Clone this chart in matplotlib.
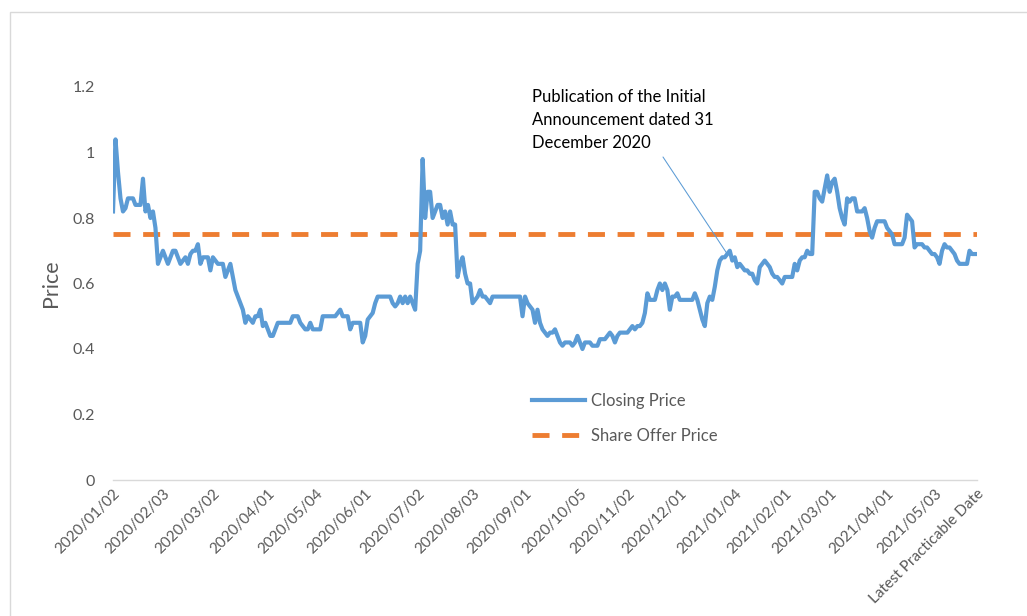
import numpy as np
import matplotlib
matplotlib.use("Agg")
import matplotlib.pyplot as plt
from matplotlib.patches import Rectangle

plt.rcParams['font.family'] = ['Lato', 'DejaVu Sans']

# closing prices, one value per trading day, grouped by month
jan20 = [0.82, 1.04, 0.94, 0.86, 0.82, 0.83, 0.86, 0.86, 0.86, 0.84,
         0.84, 0.84, 0.92, 0.82, 0.84, 0.80, 0.82, 0.77, 0.66, 0.68]
feb20 = [0.70, 0.68, 0.66, 0.68, 0.70, 0.70, 0.68, 0.66, 0.67, 0.68,
         0.66, 0.69, 0.70, 0.70, 0.72, 0.66, 0.68, 0.68, 0.68, 0.64]
mar20 = [0.68, 0.67, 0.66, 0.66, 0.66, 0.62, 0.64, 0.66, 0.62, 0.58,
         0.56, 0.54, 0.52, 0.48, 0.50, 0.49, 0.48, 0.50, 0.50, 0.52,
         0.47, 0.48]
apr20 = [0.46, 0.44, 0.44, 0.46, 0.48, 0.48, 0.48, 0.48, 0.48, 0.48,
         0.50, 0.50, 0.50, 0.48, 0.47, 0.46, 0.46, 0.48, 0.46]
may20 = [0.46, 0.46, 0.46, 0.50, 0.50, 0.50, 0.50, 0.50, 0.50, 0.51,
         0.52, 0.50, 0.50, 0.50, 0.46, 0.48, 0.48, 0.48, 0.48, 0.42]
jun20 = [0.44, 0.49, 0.50, 0.51, 0.54, 0.56, 0.56, 0.56, 0.56, 0.56,
         0.56, 0.54, 0.53, 0.54, 0.56, 0.54, 0.56, 0.54, 0.56, 0.54,
         0.52]
jul20 = [0.66, 0.70, 0.98, 0.80, 0.88, 0.88, 0.80, 0.82, 0.84, 0.84,
         0.80, 0.82, 0.78, 0.82, 0.78, 0.78, 0.62, 0.66, 0.68, 0.63,
         0.60, 0.60]
aug20 = [0.54, 0.55, 0.56, 0.58, 0.56, 0.56, 0.55, 0.54, 0.56, 0.56,
         0.56, 0.56, 0.56, 0.56, 0.56, 0.56, 0.56, 0.56, 0.56, 0.56,
         0.50]
sep20 = [0.56, 0.54, 0.53, 0.52, 0.48, 0.52, 0.48, 0.46, 0.45, 0.44,
         0.45, 0.45, 0.46, 0.44, 0.42, 0.41, 0.42, 0.42, 0.42, 0.41,
         0.42, 0.44]
oct20 = [0.42, 0.40, 0.42, 0.42, 0.42, 0.41, 0.41, 0.41, 0.43, 0.43,
         0.43, 0.44, 0.45, 0.44, 0.42, 0.44, 0.45, 0.45, 0.45]
nov20 = [0.45, 0.46, 0.47, 0.46, 0.47, 0.47, 0.48, 0.51, 0.57, 0.55,
         0.55, 0.55, 0.58, 0.60, 0.58, 0.60, 0.58, 0.52, 0.56, 0.56,
         0.57]
dec20 = [0.55, 0.55, 0.55, 0.55, 0.55, 0.55, 0.57, 0.55, 0.52, 0.49,
         0.47, 0.54, 0.56, 0.55, 0.59, 0.64, 0.67, 0.68, 0.68, 0.69,
         0.70, 0.67]
jan21 = [0.68, 0.65, 0.66, 0.65, 0.64, 0.64, 0.63, 0.63, 0.61, 0.60,
         0.65, 0.66, 0.67, 0.66, 0.65, 0.63, 0.62, 0.62, 0.61, 0.60]
feb21 = [0.62, 0.62, 0.62, 0.62, 0.66, 0.64, 0.67, 0.68, 0.68, 0.70,
         0.69, 0.69, 0.88, 0.88, 0.86, 0.85, 0.89, 0.93]
mar21 = [0.88, 0.91, 0.92, 0.88, 0.83, 0.80, 0.78, 0.86, 0.85, 0.86,
         0.86, 0.82, 0.82, 0.82, 0.83, 0.80, 0.76, 0.74, 0.77, 0.79,
         0.79, 0.79, 0.79]
apr21 = [0.77, 0.76, 0.75, 0.72, 0.72, 0.72, 0.72, 0.74, 0.81, 0.80,
         0.79, 0.71, 0.72, 0.72, 0.72, 0.71, 0.71, 0.70, 0.69]
may21 = [0.69, 0.68, 0.66, 0.70, 0.72, 0.71, 0.71, 0.70, 0.69, 0.67,
         0.66, 0.66, 0.66, 0.66, 0.70, 0.69, 0.69, 0.69]

months = [jan20, feb20, mar20, apr20, may20, jun20, jul20, aug20, sep20,
          oct20, nov20, dec20, jan21, feb21, mar21, apr21, may21]
closing = np.concatenate(months)
offer_price = 0.75

tick_labels = ['2020/01/02', '2020/02/03', '2020/03/02', '2020/04/01',
               '2020/05/04', '2020/06/01', '2020/07/02', '2020/08/03',
               '2020/09/01', '2020/10/05', '2020/11/02', '2020/12/01',
               '2021/01/04', '2021/02/01', '2021/03/01', '2021/04/01',
               '2021/05/03', 'Latest Practicable Date']

x = np.arange(len(closing))
tick_pos = list(np.cumsum([0] + [len(m) for m in months[:-1]])) + [len(closing) - 1]

blue = '#5B9BD5'
orange = '#ED7D31'
grey = '#595959'

fig = plt.figure(figsize=(10.27, 6.16), dpi=100)
fig.patches.append(Rectangle((10 / 1027, -0.1), 1.2, 1 - 12 / 616 + 0.1,
                             transform=fig.transFigure, fill=False,
                             ec='#D9D9D9', lw=1))
ax = fig.add_axes([113 / 1027, 1 - 480 / 616, 864 / 1027, 393 / 616])

ax.plot(x, closing, color=blue, lw=3, label='Closing Price', zorder=3)
ax.plot(x, np.full(len(x), offer_price), color=orange, lw=3.5,
        dashes=(3.5, 2.6), label='Share Offer Price', zorder=2)

ax.set_xlim(0, len(closing) - 1)
ax.set_ylim(0, 1.2)
ax.set_yticks([0, 0.2, 0.4, 0.6, 0.8, 1, 1.2])
ax.set_yticklabels(['0', '0.2', '0.4', '0.6', '0.8', '1', '1.2'])
ax.set_xticks(tick_pos)
ax.set_xticklabels(tick_labels, rotation=45, ha='right', rotation_mode='anchor')
ax.tick_params(axis='both', length=0, colors=grey, labelsize=11)
ax.tick_params(axis='y', labelsize=11.5, pad=13)
ax.tick_params(axis='x', pad=5)
for s in ['top', 'right', 'left']:
    ax.spines[s].set_visible(False)
ax.spines['bottom'].set_color('#D9D9D9')
ax.spines['bottom'].set_linewidth(1)
ax.set_ylabel('Price', color=grey, fontsize=15.5, labelpad=8)

leg = ax.legend(loc='upper left', bbox_to_anchor=(517 / 1027, 1 - 378 / 616),
                bbox_transform=fig.transFigure, frameon=False, fontsize=12,
                handlelength=3.2, handletextpad=0.35, labelspacing=1.15)
for t in leg.get_texts():
    t.set_color(grey)

ann_idx = 246
ax.annotate('', xy=(ann_idx, closing[ann_idx]), xytext=(663, 616 - 157),
            textcoords='figure pixels',
            arrowprops=dict(arrowstyle='-', color=blue, lw=0.75,
                            shrinkA=0, shrinkB=0))
fig.text(532 / 1027, 1 - 89 / 616,
         'Publication of the Initial\nAnnouncement dated 31\nDecember 2020',
         fontsize=12, color='black', va='top', ha='left', linespacing=1.55)

fig.savefig('out.png', dpi=100)
